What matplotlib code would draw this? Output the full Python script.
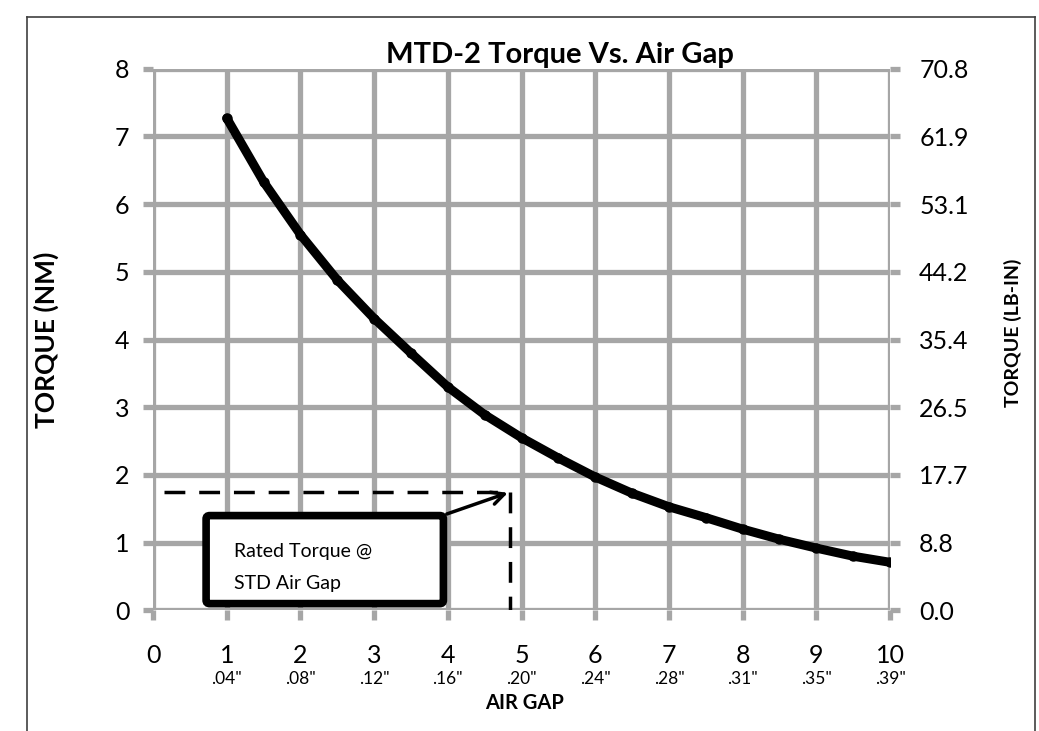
import matplotlib.pyplot as plt
from matplotlib.lines import Line2D
from matplotlib.patches import FancyBboxPatch

plt.rcParams['font.family'] = ['Lato', 'DejaVu Sans']

# curve
air_gap = [1.0, 1.5, 2.0, 2.5, 3.0, 3.5, 4.0, 4.5, 5.0, 5.5,
           6.0, 6.5, 7.0, 7.5, 8.0, 8.5, 9.0, 9.5, 10.0]
torque_nm = [7.27, 6.33, 5.55, 4.88, 4.31, 3.80, 3.30, 2.89, 2.55, 2.25,
             1.97, 1.73, 1.53, 1.37, 1.20, 1.05, 0.92, 0.80, 0.71]

x_ticks = list(range(0, 11))
x_labels = ['0'] + ['%d' % i for i in range(1, 11)]
inch_labels = ['', '.04"', '.08"', '.12"', '.16"', '.20"', '.24"', '.28"', '.31"', '.35"', '.39"']
y_ticks = list(range(0, 9))
lbin_ticks = [8.85 * k for k in range(9)]
lbin_labels = ['0.0', '8.8', '17.7', '26.5', '35.4', '44.2', '53.1', '61.9', '70.8']

# rated point
rated_x = 4.85
rated_y = 1.75

grid_c = '#a6a6a6'

fig = plt.figure(figsize=(10.39, 7.31), dpi=100)
ax = fig.add_axes([0.1473, 0.165, 0.7093, 0.741])
ax.set_xlim(0, 10)
ax.set_ylim(0, 8)
ax.set_xticks(x_ticks)
ax.set_xticklabels(x_labels)
ax.set_yticks(y_ticks)
ax.grid(True, color=grid_c, linewidth=3.8)
ax.set_axisbelow(True)
for s in ax.spines.values():
    s.set_visible(False)
ax.tick_params(axis='both', colors=grid_c, width=3.8, length=7, labelcolor='black', labelsize=18)
ax.tick_params(axis='x', pad=17)
ax.tick_params(axis='y', pad=10)

ax2 = ax.twinx()
ax2.set_ylim(0, 70.8)
ax2.set_yticks(lbin_ticks)
ax2.set_yticklabels(lbin_labels)
for s in ax2.spines.values():
    s.set_visible(False)
ax2.tick_params(axis='y', colors=grid_c, width=3.8, length=7, labelcolor='black', labelsize=18, pad=14)

# inch labels under the numbers
for xt, lab in zip(x_ticks, inch_labels):
    ax.text(xt, -0.9, lab, ha='center', va='top', fontsize=12.5)

ax.plot(air_gap, torque_nm, color='black', linewidth=6.5, solid_capstyle='round',
        marker='o', markersize=6.5, zorder=5)

# rated torque marker lines
ax.plot([0.15, rated_x], [rated_y, rated_y], color='black', linewidth=2.5, dashes=(6, 4))
ax.plot([rated_x, rated_x], [rated_y, 0], color='black', linewidth=2.5, dashes=(6, 4))

box = FancyBboxPatch((0.72, 0.1), 3.22, 1.3, boxstyle='round,pad=0,rounding_size=0.05',
                     facecolor='white', edgecolor='black', linewidth=5.5, zorder=6)
ax.add_patch(box)
ax.text(1.1, 0.87, 'Rated Torque @', fontsize=14, va='center', zorder=7)
ax.text(1.1, 0.40, 'STD Air Gap', fontsize=14, va='center', zorder=7)
ax.annotate('', xy=(rated_x, rated_y), xytext=(3.95, 1.41),
            arrowprops=dict(arrowstyle='->,head_length=0.9,head_width=0.45', color='black', lw=2.5),
            zorder=7)

fig.text(0.539, 0.925, 'MTD-2 Torque Vs. Air Gap', ha='center', va='center',
         fontsize=21, fontweight='bold')
fig.text(0.045, 0.535, 'TORQUE (NM)', rotation=90, ha='center', va='center',
         fontsize=19, fontweight='bold')
fig.text(0.975, 0.545, 'TORQUE (LB-IN)', rotation=90, ha='center', va='center',
         fontsize=14, fontweight='bold')
fig.text(0.505, 0.038, 'AIR GAP', ha='center', va='center', fontsize=14.5, fontweight='bold')

# outer frame
fl, fr, ft = 27 / 1039, 1035 / 1039, 1 - 17 / 731
for xs, ys in [([fl, fl], [-0.1, ft]), ([fl, fr], [ft, ft]), ([fr, fr], [ft, -0.1])]:
    fig.add_artist(Line2D(xs, ys, color='#404040', linewidth=1.2))

fig.savefig('out.png', dpi=100)
